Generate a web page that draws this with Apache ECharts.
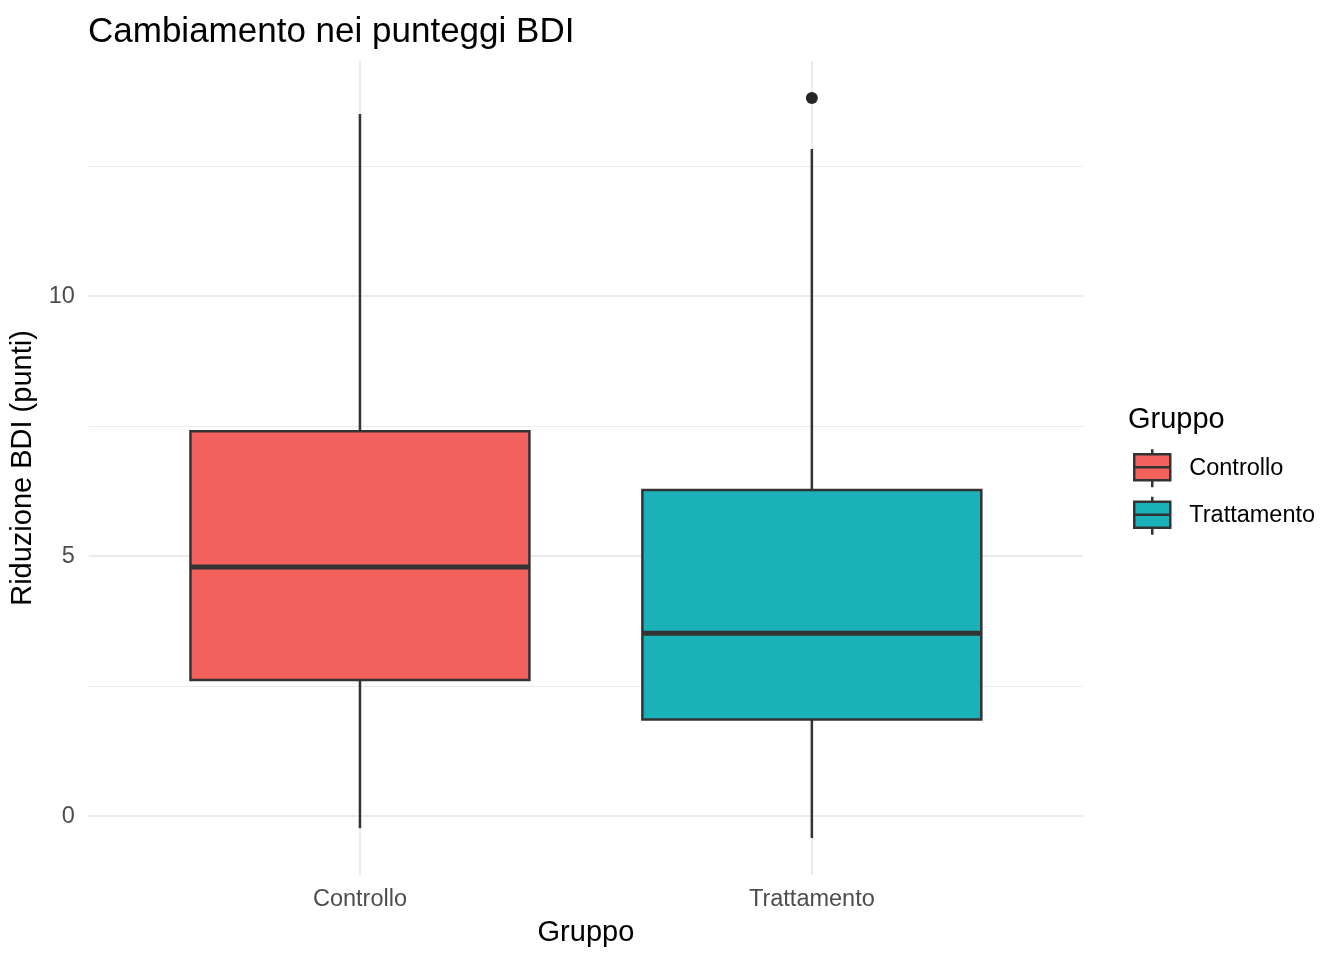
<!DOCTYPE html>
<html>
<head>
<meta charset="utf-8">
<script src="https://cdn.jsdelivr.net/npm/echarts@6/dist/echarts.min.js"></script>
<style>
  html, body { margin: 0; padding: 0; background: #ffffff; }
  #chart { width: 1344px; height: 960px; }
</style>
</head>
<body>
<div id="chart"></div>
<script>
// ---- data ----
const categories   = ['Controllo', 'Trattamento'];
const lowWhisker   = [-0.23, -0.42];
const q1           = [2.62, 1.86];
const medians      = [4.79, 3.52];
const q3           = [7.40, 6.27];
const highWhisker  = [13.50, 12.83];
const outlierGroup = [2];        // 1-based category position
const outlierValue = [13.81];
const yTickLabels  = [0, 5, 10];
const yMinorGrid   = [2.5, 7.5, 12.5];
const fillColors   = ['#F3615D', '#1AB2B8'];

const FONT = '"Liberation Sans", Arial, Helvetica, sans-serif';
const LINE = '#333333';

function renderBox(params, api) {
  const x = api.value(0);
  const pLo  = api.coord([x, api.value(1)]);
  const pQ1  = api.coord([x, api.value(2)]);
  const pMed = api.coord([x, api.value(3)]);
  const pQ3  = api.coord([x, api.value(4)]);
  const pHi  = api.coord([x, api.value(5)]);
  const halfW = api.size([0.75, 0])[0] / 2;
  const cx = pLo[0];
  const fill = api.visual('color');
  return {
    type: 'group',
    children: [
      { type: 'line', shape: { x1: cx, y1: pHi[1], x2: cx, y2: pQ3[1] }, style: { stroke: LINE, lineWidth: 2.5 } },
      { type: 'line', shape: { x1: cx, y1: pQ1[1], x2: cx, y2: pLo[1] }, style: { stroke: LINE, lineWidth: 2.5 } },
      { type: 'rect', shape: { x: cx - halfW, y: pQ3[1], width: 2 * halfW, height: pQ1[1] - pQ3[1] },
        style: { fill: fill, stroke: LINE, lineWidth: 2.5 } },
      { type: 'line', shape: { x1: cx - halfW, y1: pMed[1], x2: cx + halfW, y2: pMed[1] }, style: { stroke: LINE, lineWidth: 5 } }
    ]
  };
}

const boxSeries = categories.map((name, i) => ({
  name: name,
  type: 'custom',
  renderItem: renderBox,
  itemStyle: { color: fillColors[i] },
  encode: { x: 0, y: [1, 2, 3, 4, 5] },
  data: [[i + 1, lowWhisker[i], q1[i], medians[i], q3[i], highWhisker[i]]],
  z: 3,
  silent: true
}));

const gridLineData = []
  .concat(yTickLabels.map(v => ({ yAxis: v, lineStyle: { width: 2.2 } })))
  .concat(yMinorGrid.map(v => ({ yAxis: v, lineStyle: { width: 1.1 } })))
  .concat(categories.map((c, i) => ({ xAxis: i + 1, lineStyle: { width: 2.2 } })));

const option = {
  animation: false,
  backgroundColor: '#ffffff',
  textStyle: { fontFamily: FONT },
  title: [
    { text: 'Cambiamento nei punteggi BDI', left: 88, top: 15, padding: 0,
      textStyle: { fontFamily: FONT, fontSize: 35, fontWeight: 'normal', color: '#000000' } },
    { text: 'Gruppo', left: 1128, top: 405, padding: 0,
      textStyle: { fontFamily: FONT, fontSize: 29, fontWeight: 'normal', color: '#000000' } }
  ],
  legend: {
    data: categories,
    orient: 'vertical',
    left: 1133,
    top: 448,
    padding: 0,
    itemWidth: 36,
    itemHeight: 38,
    itemGap: 7,
    icon: 'path://M18,0L18,5M0,5L36,5L36,31L0,31ZM0,18L36,18M18,31L18,38',
    itemStyle: { borderColor: LINE, borderWidth: 2.5 },
    textStyle: { fontFamily: FONT, fontSize: 23.5, color: '#000000', padding: [0, 0, 0, 14] },
    selectedMode: false
  },
  grid: { left: 88.8, right: 261, top: 61, bottom: 85, containLabel: false, outerBoundsMode: 'none' },
  xAxis: {
    type: 'value',
    min: 0.4,
    max: 2.6,
    name: 'Gruppo',
    nameLocation: 'middle',
    nameGap: 43,
    nameTextStyle: { fontFamily: FONT, fontSize: 29, color: '#000000' },
    axisLine: { show: false },
    axisTick: { show: false },
    splitLine: { show: false },
    axisLabel: {
      customValues: categories.map((c, i) => i + 1),
      formatter: v => categories[Math.round(v) - 1] || '',
      margin: 13,
      fontFamily: FONT,
      fontSize: 23.5,
      color: '#4D4D4D'
    }
  },
  yAxis: {
    type: 'value',
    min: -1.13,
    max: 14.52,
    name: 'Riduzione BDI (punti)',
    nameLocation: 'middle',
    nameGap: 48,
    nameTextStyle: { fontFamily: FONT, fontSize: 29, color: '#000000' },
    axisLine: { show: false },
    axisTick: { show: false },
    splitLine: { show: false },
    axisLabel: {
      customValues: yTickLabels,
      formatter: v => String(v),
      margin: 14,
      fontFamily: FONT,
      fontSize: 23.5,
      color: '#4D4D4D'
    }
  },
  series: [
    {
      name: 'grid',
      type: 'line',
      data: [],
      z: 1,
      silent: true,
      markLine: {
        silent: true,
        z: 1,
        symbol: ['none', 'none'],
        label: { show: false },
        emphasis: { disabled: true },
        lineStyle: { color: '#EBEBEB', type: 'solid' },
        data: gridLineData
      }
    },
    ...boxSeries,
    {
      name: 'outlier',
      type: 'scatter',
      data: outlierGroup.map((g, i) => [g, outlierValue[i]]),
      symbolSize: 12,
      itemStyle: { color: '#262626', opacity: 1 },
      z: 4,
      silent: true
    }
  ]
};

const chart = echarts.init(document.getElementById('chart'), null, { renderer: 'canvas' });
chart.setOption(option);
</script>
</body>
</html>
